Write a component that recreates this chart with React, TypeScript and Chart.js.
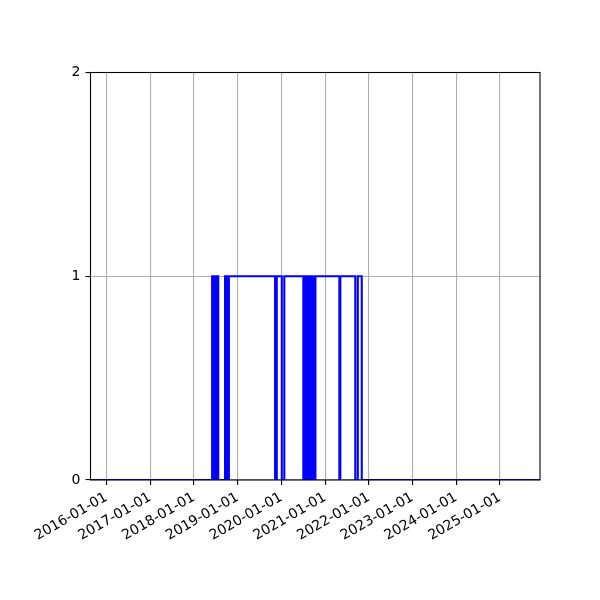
import React, { useEffect, useRef } from 'react';
import { Chart, registerables } from 'chart.js';

Chart.register(...registerables);

// Dates where the state switches, and the state from that date onward
const stateDates = [
  '2015-08-21',
  '2018-06-02', '2018-06-10', '2018-06-17', '2018-06-25', '2018-07-02', '2018-07-09', '2018-07-16', '2018-07-23',
  '2018-09-18', '2018-09-24', '2018-10-02', '2018-10-10', '2018-10-20',
  '2019-11-10', '2019-11-24', '2020-01-05', '2020-01-26',
  '2020-07-03', '2020-07-10', '2020-07-17', '2020-07-24', '2020-07-31', '2020-08-07', '2020-08-14',
  '2020-08-21', '2020-08-28', '2020-09-04', '2020-09-11', '2020-09-18', '2020-09-25', '2020-10-02',
  '2020-10-09', '2020-10-12',
  '2021-04-30', '2021-05-08',
  '2021-09-10', '2021-10-01', '2021-11-03',
  '2025-12-01',
];
const stateValues = [
  0,
  1, 0, 1, 0, 1, 0, 1, 0,
  1, 0, 1, 0, 1,
  0, 1, 0, 1,
  0, 1, 0, 1, 0, 1, 0,
  1, 0, 1, 0, 1, 0, 1,
  0, 1,
  0, 1,
  0, 1, 0,
  0,
];

const xTickYears = [2016, 2017, 2018, 2019, 2020, 2021, 2022, 2023, 2024, 2025];
const yTicks = [0, 1, 2];

const pad2 = (n: number) => (n < 10 ? '0' + n : String(n));
const formatDate = (ms: number) => {
  const d = new Date(ms);
  return `${d.getUTCFullYear()}-${pad2(d.getUTCMonth() + 1)}-${pad2(d.getUTCDate())}`;
};

// draws the four spines on top of the data, like matplotlib does
const framePlugin = {
  id: 'frame',
  afterDatasetsDraw(chart: any) {
    const { ctx, chartArea } = chart;
    ctx.save();
    ctx.strokeStyle = '#000';
    ctx.lineWidth = 1.1;
    ctx.strokeRect(chartArea.left, chartArea.top, chartArea.right - chartArea.left, chartArea.bottom - chartArea.top);
    ctx.restore();
  },
};

const App: React.FC = () => {
  const canvasRef = useRef<HTMLCanvasElement | null>(null);

  useEffect(() => {
    if (!canvasRef.current) return;
    const points = stateDates.map((d, i) => ({ x: Date.parse(d), y: stateValues[i] }));
    const xMin = points[0].x;
    const xMax = points[points.length - 1].x;
    const tickFont = { family: 'DejaVu Sans', size: 14 };

    const chart = new Chart(canvasRef.current, {
      type: 'line',
      data: {
        datasets: [{
          data: points,
          borderColor: '#0000ff',
          borderWidth: 2.1,
          pointRadius: 0,
          stepped: 'before',
          fill: false,
        }],
      },
      options: {
        animation: false,
        responsive: false,
        devicePixelRatio: 1,
        layout: { padding: { top: 72.5, right: 60, left: 0, bottom: 0 } },
        plugins: { legend: { display: false }, tooltip: { enabled: false } },
        scales: {
          x: {
            type: 'linear',
            min: xMin,
            max: xMax,
            afterBuildTicks: (scale: any) => {
              scale.ticks = xTickYears.map((y) => ({ value: Date.UTC(y, 0, 1) }));
            },
            afterFit: (scale: any) => { scale.height = 120; },
            grid: { color: '#b0b0b0', lineWidth: 1.1, tickColor: '#000', tickLength: 5 },
            border: { display: false },
            ticks: {
              autoSkip: false,
              minRotation: 30,
              maxRotation: 30,
              padding: 4,
              color: '#000',
              font: tickFont,
              callback: (v: any) => formatDate(Number(v)),
            },
          },
          y: {
            type: 'linear',
            min: 0,
            max: 2,
            afterBuildTicks: (scale: any) => {
              scale.ticks = yTicks.map((v) => ({ value: v }));
            },
            afterFit: (scale: any) => { scale.width = 90.5; },
            grid: { color: '#b0b0b0', lineWidth: 1.1, tickColor: '#000', tickLength: 5 },
            border: { display: false },
            ticks: { padding: 5, color: '#000', font: tickFont },
          },
        },
      },
      plugins: [framePlugin],
    } as any);

    return () => chart.destroy();
  }, []);

  return (
    <div style={{ position: 'fixed', left: 0, top: 0, width: 600, height: 600, background: '#fff' }}>
      <canvas ref={canvasRef} width={600} height={600} />
    </div>
  );
};

export default App;
